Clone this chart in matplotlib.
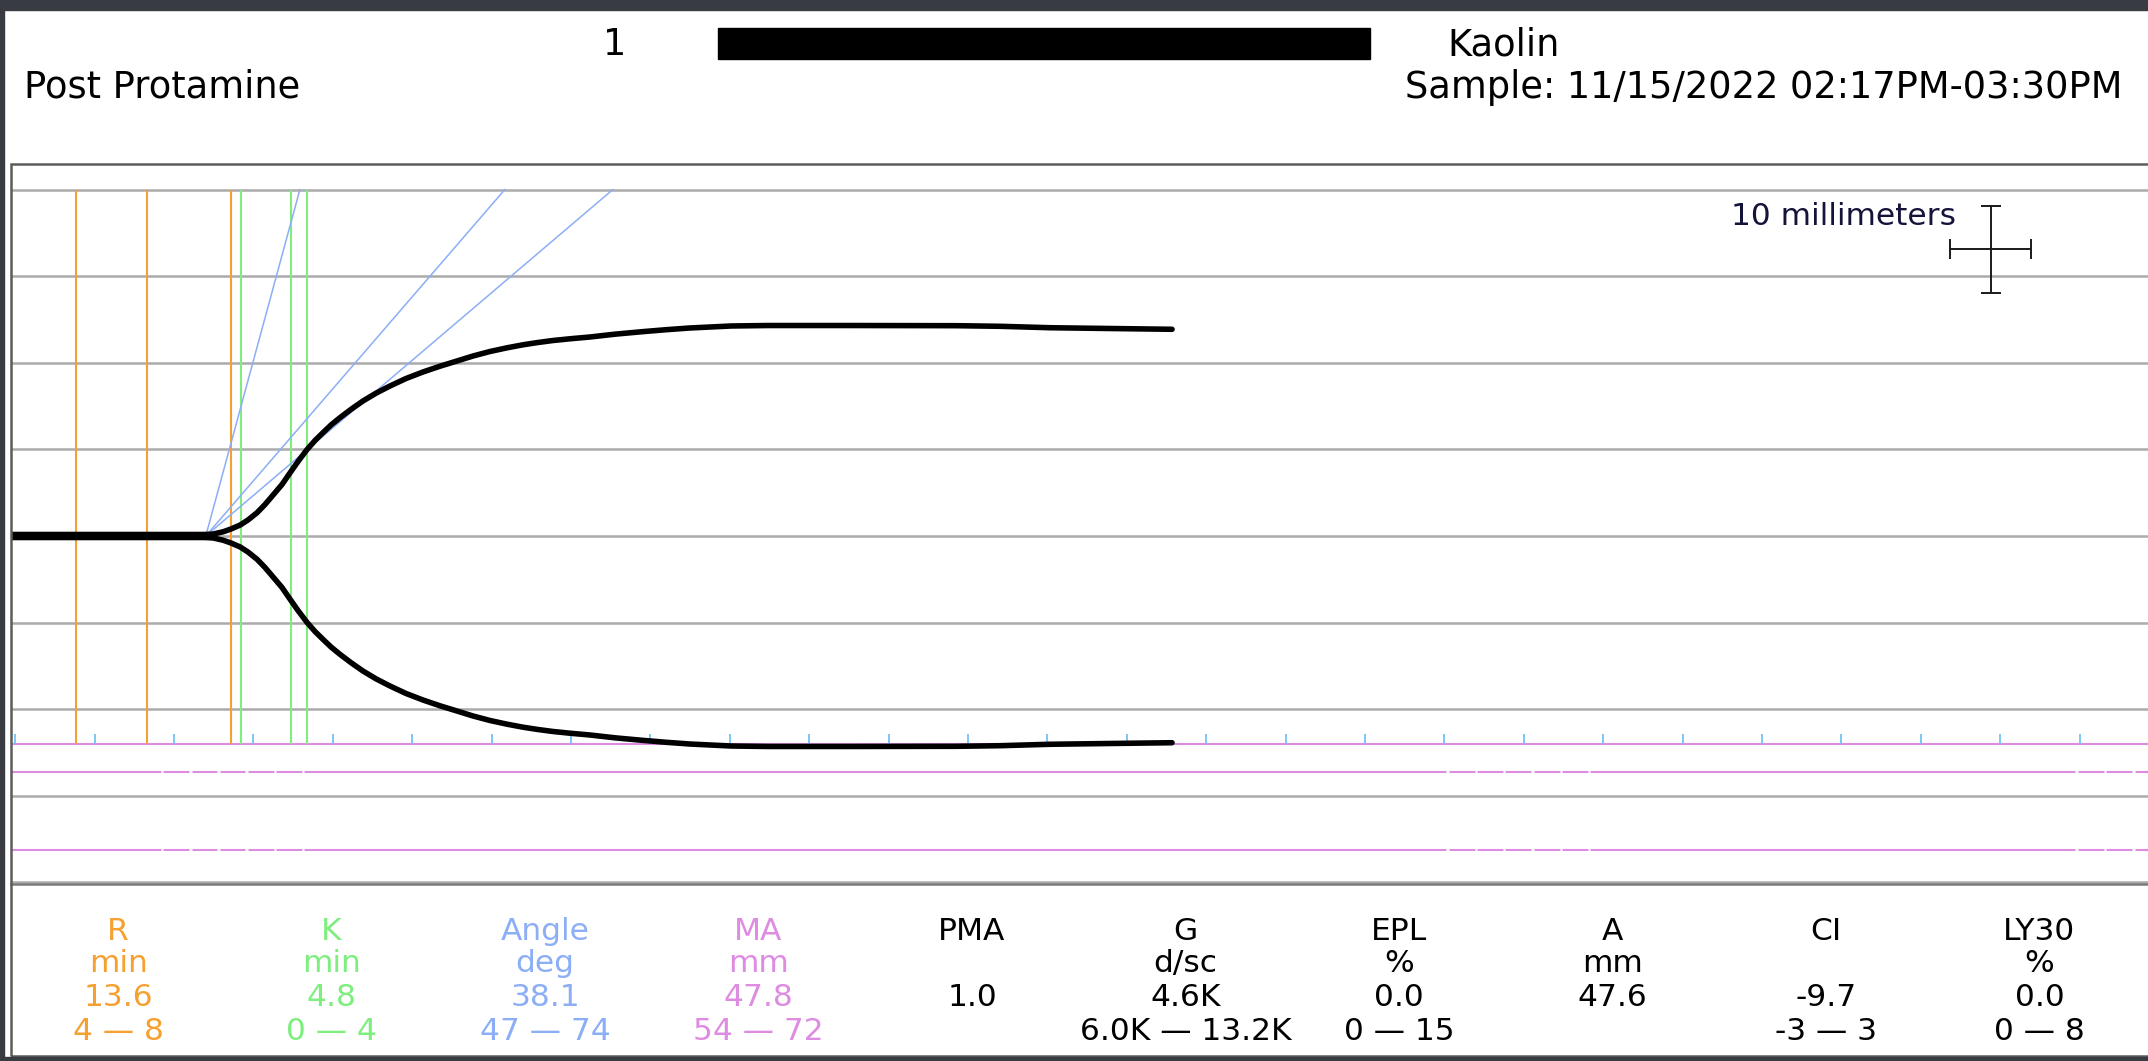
import numpy as np
import matplotlib.pyplot as plt
from matplotlib.patches import Rectangle


# clot trace : time (min) and total amplitude (mm), plotted +/- half
trace_min = [-0.3, 11.95, 12.46, 13.09, 13.59, 14.16, 14.66, 15.23, 15.73, 16.23,
             16.8, 17.3, 17.81, 18.37, 18.88, 19.38, 19.89, 20.45, 21.15, 21.9,
             22.72, 23.6, 24.61, 25.68, 26.75, 27.82, 28.83, 29.9, 30.97, 31.98,
             32.92, 33.87, 35.0, 36.2, 37.77, 39.47, 40.98, 42.49, 45.08, 47.41,
             52.57, 59.24, 62.02, 65.17, 68.95, 72.85]
trace_amp = [0.35, 0.35, 0.45, 0.97, 1.62, 2.52, 3.7, 5.38, 7.27, 9.42,
             11.89, 14.55, 17.21, 19.93, 22.06, 23.86, 25.64, 27.32, 29.26, 31.18,
             32.98, 34.64, 36.37, 37.88, 39.21, 40.42, 41.57, 42.61, 43.46, 44.16,
             44.69, 45.15, 45.57, 45.96, 46.61, 47.18, 47.64, 48.04, 48.5, 48.61,
             48.61, 48.57, 48.43, 48.1, 47.92, 47.74]

# marker lines (min)
r_lines_min = [3.82, 8.29, 13.6]
k_lines_min = [14.2, 17.35, 18.4]

# angle lines, as drawn on screen (deg), starting at the split point
angle_origin_min = 12.0
angle_lines_deg = [74.8, 49.2, 40.4]

# MA lines, distance below the baseline (mm)
ma_lines_mm = [24.05, 27.3, 36.3]
# little breaks in the two lower MA lines (min)
ma_gaps_min = [9.24, 11.04, 12.8, 14.57, 16.36, 18.12,
               90.2, 92.0, 93.76, 95.55, 97.34, 99.1,
               129.8, 131.6, 133.4]

# parameter table
params = ["R", "K", "Angle", "MA", "PMA", "G", "EPL", "A", "CI", "LY30"]
units  = ["min", "min", "deg", "mm", "", "d/sc", "%", "mm", "", "%"]
values = ["13.6", "4.8", "38.1", "47.8", "1.0", "4.6K", "0.0", "47.6", "-9.7", "0.0"]
ranges = ["4 \u2014 8", "0 \u2014 4", "47 \u2014 74", "54 \u2014 72", "",
          "6.0K \u2014 13.2K", "0 \u2014 15", "", "-3 \u2014 3", "0 \u2014 8"]

ORANGE  = "#F5A030"
GREEN   = "#7EEE7E"
BLUE    = "#8CAEF6"
MAGENTA = "#DE8CE2"
colors  = [ORANGE, GREEN, BLUE, MAGENTA] + ["black"] * 6



##### FIGURE AND CHART AREA #####

W, H = 2148, 1061
fig = plt.figure(figsize=(W / 100, H / 100), dpi=100)
fig.patch.set_facecolor("white")

def fx(px):
    return px / W

def fy(py):
    return 1 - py / H

# chart box in pixels
left_px, right_px, top_px, bot_px = 11, 2148, 164, 884
px_per_min, t0_px = 15.88, 15.2
px_per_mm, base_px = 8.66, 536

ax = fig.add_axes([fx(left_px), fy(bot_px),
                   fx(right_px) - fx(left_px), fy(top_px) - fy(bot_px)])
ax.set_xlim((left_px - t0_px) / px_per_min, (right_px - t0_px) / px_per_min)
ax.set_ylim((base_px - bot_px) / px_per_mm, (base_px - top_px) / px_per_mm)
ax.set_xticks([])
ax.set_yticks([])
for side in ["top", "left", "right"]:
    ax.spines[side].set_visible(False)
ax.spines["bottom"].set_color("#7a7a7a")
ax.spines["bottom"].set_linewidth(1.8)

# horizontal grid every 10 mm
for g in np.arange(-40, 41, 10):
    ax.axhline(g, color="#ababab", lw=1.8, zorder=1)

# MA lines
ma_top = -ma_lines_mm[0]
for m in ma_lines_mm:
    ax.axhline(-m, color=MAGENTA, lw=1.5, zorder=2)
for m in ma_lines_mm[1:]:
    ax.hlines([-m] * len(ma_gaps_min), np.array(ma_gaps_min) - 0.08,
              np.array(ma_gaps_min) + 0.08, color="white", lw=2.2, zorder=2.5)

# time ticks every 5 min on the MA line
tick_min = np.arange(0, 135, 5)
ax.vlines(tick_min, ma_top, ma_top + 1.15, color="#74C2F2", lw=1.3, zorder=3)

# R and K lines
ax.vlines(r_lines_min, ma_top, 40, color=ORANGE, lw=1.5, zorder=3)
ax.vlines(k_lines_min, ma_top, 40, color=GREEN, lw=1.5, zorder=3)

# angle lines (screen angle -> data slope)
for deg in angle_lines_deg:
    slope = np.tan(np.radians(deg)) * px_per_min / px_per_mm
    ax.plot([angle_origin_min, angle_origin_min + 40 / slope], [0, 40],
            color=BLUE, lw=1.1, zorder=4)

# the trace
t = np.array(trace_min)
half = np.array(trace_amp) / 2
for sign in [1, -1]:
    ax.plot(t, sign * half, color="black", lw=4.0, zorder=6,
            solid_capstyle="round", solid_joinstyle="round")

# 10 mm scale cross
ax.errorbar(124.4, 33.1, xerr=2.55, yerr=5, color="#1a1a1a", lw=1.4,
            capsize=7, capthick=1.4, fmt="none", zorder=5)
ax.text(122.2, 33.1 + (249 - 225) / px_per_mm, "10 millimeters",
        ha="right", va="baseline", fontsize=22.5, color="#14143a")



##### FRAME, HEADER AND TABLE #####

# outer box of chart + table
fig.patches.append(Rectangle((fx(11), fy(1056)), fx(2170) - fx(11), fy(164) - fy(1056),
                             transform=fig.transFigure, fill=False,
                             edgecolor="#5c5c5c", lw=1.8))
# dark window border
dark = "#383b42"
fig.patches.append(Rectangle((0, fy(10)), 1, 10 / H, transform=fig.transFigure,
                             color=dark, zorder=5))
fig.patches.append(Rectangle((0, 0), 4 / W, 1, transform=fig.transFigure,
                             color=dark, zorder=5))
fig.patches.append(Rectangle((0, 0), 1, 4 / H, transform=fig.transFigure,
                             color=dark, zorder=5))

# header
head_fs = 26.5
fig.text(fx(615), fy(55), "1", ha="center", va="baseline", fontsize=head_fs)
fig.patches.append(Rectangle((fx(718), fy(58.5)), fx(1370) - fx(718), fy(28.5) - fy(58.5),
                             transform=fig.transFigure, color="black", zorder=5))
fig.text(fx(1447), fy(55), "Kaolin", ha="left", va="baseline", fontsize=head_fs)
fig.text(fx(24), fy(98), "Post Protamine", ha="left", va="baseline", fontsize=head_fs)
fig.text(fx(1405), fy(98), "Sample: 11/15/2022 02:17PM-03:30PM",
         ha="left", va="baseline", fontsize=head_fs)

# table
col_x = [118 + 213.5 * i for i in range(len(params))]
row_y = [940, 972, 1006.5, 1040]
for i, p in enumerate(params):
    for row, txt in zip(row_y, [p, units[i], values[i], ranges[i]]):
        if txt:
            fig.text(fx(col_x[i]), fy(row), txt, ha="center", va="baseline",
                     fontsize=22.5, color=colors[i])

fig.savefig("out.png", dpi=100)
